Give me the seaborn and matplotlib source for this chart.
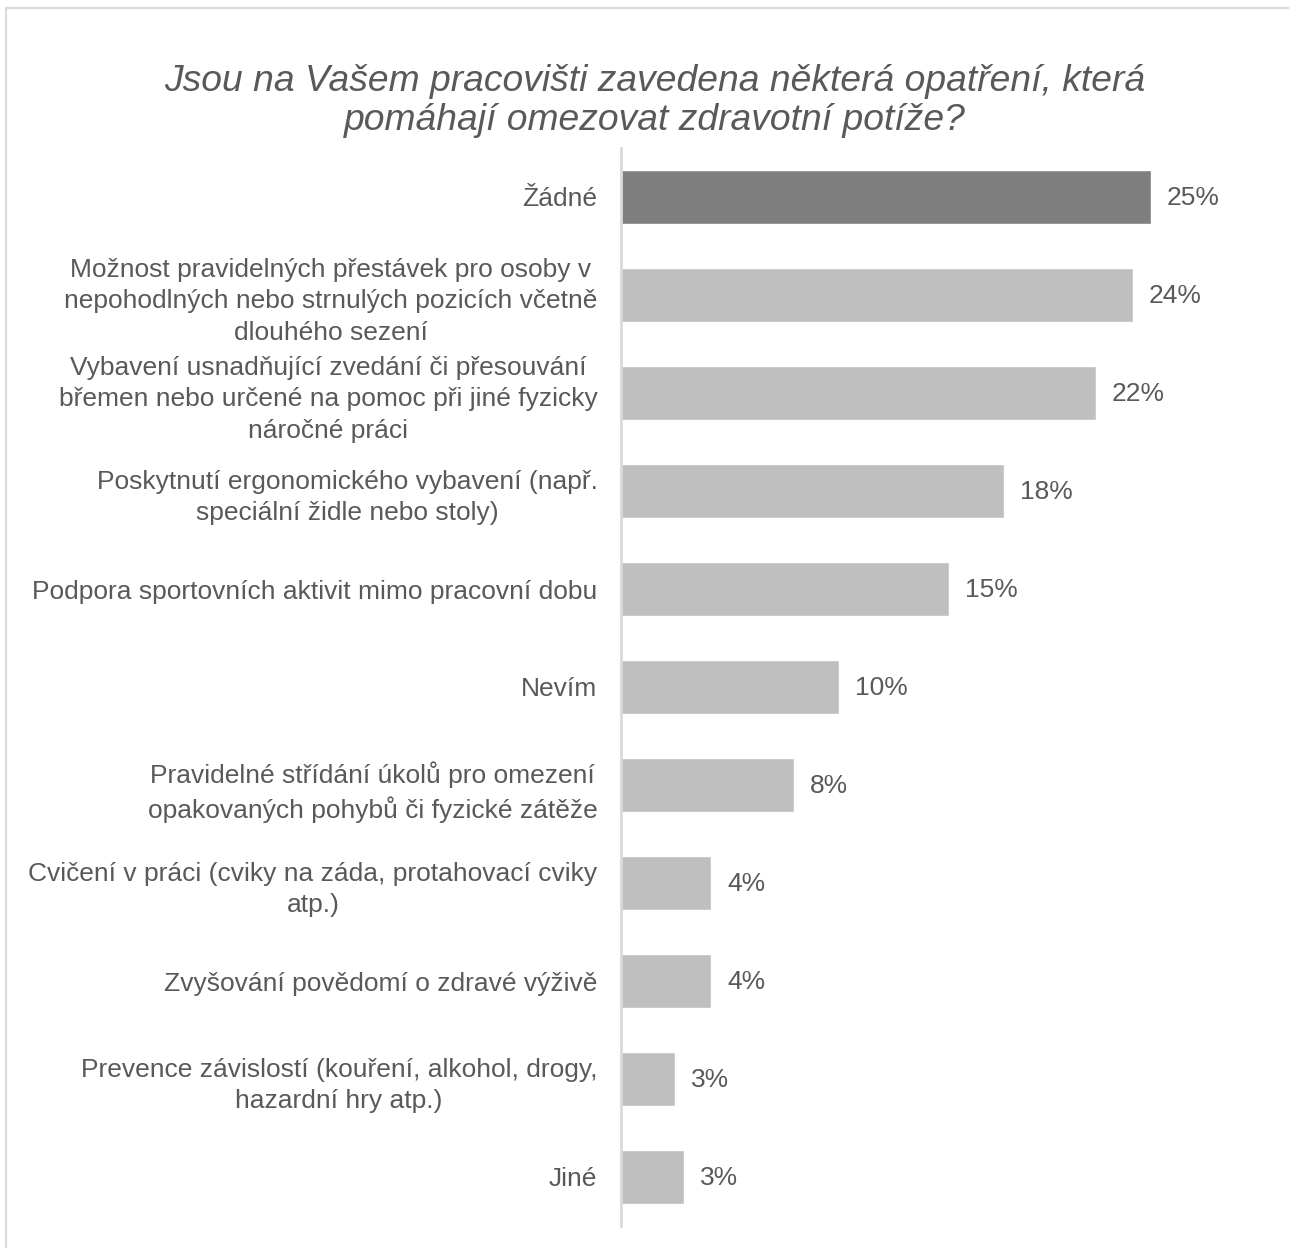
import matplotlib
matplotlib.use("Agg")
import matplotlib.pyplot as plt
import matplotlib.patches as mpatches
import seaborn as sns
import pandas as pd

# Data
categories = [
    "Žádné",
    "Možnost pravidelných přestávek pro osoby v\nnepohodlných nebo strnulých pozicích včetně\ndlouhého sezení",
    "Vybavení usnadňující zvedání či přesouvání\nbřemen nebo určené na pomoc při jiné fyzicky\nnáročné práci",
    "Poskytnutí ergonomického vybavení (např.\nspeciální židle nebo stoly)",
    "Podpora sportovních aktivit mimo pracovní dobu",
    "Nevím",
    "Pravidelné střídání úkolů pro omezení\nopakovaných pohybů či fyzické zátěže",
    "Cvičení v práci (cviky na záda, protahovací cviky\natp.)",
    "Zvyšování povědomí o zdravé výživě",
    "Prevence závislostí (kouření, alkohol, drogy,\nhazardní hry atp.)",
    "Jiné",
]
values = [25.0, 24.15, 22.4, 18.07, 15.47, 10.3, 8.16, 4.25, 4.25, 2.55, 2.97]
bar_colors = ["#7f7f7f"] + ["#bfbfbf"] * 10

title = "Jsou na Vašem pracovišti zavedena některá opatření, která\npomáhají omezovat zdravotní potíže?"

sns.set_style("white")
plt.rcParams["font.family"] = ["Liberation Sans", "DejaVu Sans"]
text_color = "#595959"

W, H = 1289, 1248
fig = plt.figure(figsize=(W / 100, H / 100), dpi=100)
ax = fig.add_axes([621 / W, 1 - 1226 / H, 636 / W, (1226 - 148) / H])

df = pd.DataFrame({"cat": categories, "val": values})
sns.barplot(data=df, y="cat", x="val", hue="cat", palette=bar_colors,
            legend=False, orient="h", width=0.55, ax=ax, saturation=1)

ax.set_xlim(0, 30)
ax.set_xlabel("")
ax.set_ylabel("")
ax.set_xticks([])
for s in ["top", "right", "bottom"]:
    ax.spines[s].set_visible(False)
ax.spines["left"].set_color("#d9d9d9")
ax.spines["left"].set_linewidth(2)
ax.tick_params(axis="y", length=0, pad=17, labelsize=19, labelcolor=text_color)
for lbl in ax.get_yticklabels():
    lbl.set_multialignment("center")
    lbl.set_linespacing(1.42)

for i, v in enumerate(values):
    ax.annotate(f"{round(v)}%", xy=(v, i), xytext=(11.5, -1), textcoords="offset points",
                ha="left", va="center", fontsize=19, color=text_color)

fig.text(655 / W, 1 - 101 / H, title, ha="center", va="center", fontsize=26.8,
         style="italic", color=text_color, linespacing=1.15)

# light frame around the chart
fig.patches.append(mpatches.Rectangle((6 / W, -0.1), 1.2, 1 - 8 / H + 0.1,
                                      transform=fig.transFigure, fill=False,
                                      edgecolor="#d9d9d9", linewidth=1.5))

fig.savefig("out.png", dpi=100)
